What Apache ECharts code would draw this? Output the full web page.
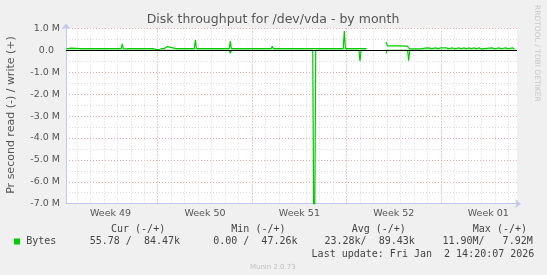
<!DOCTYPE html>
<html><head><meta charset="utf-8">
<script src="https://cdn.jsdelivr.net/npm/echarts@6/dist/echarts.min.js"></script>
<style>html,body{margin:0;padding:0;background:#f0f0f0;}#c{width:547px;height:275px;}</style>
</head><body><div id="c"></div>
<script>
// ---- text ----
const chartTitle = 'Disk throughput for /dev/vda - by month';
const yAxisTitle = 'Pr second read (-) / write (+)';
const weekLabels = ['Week 49', 'Week 50', 'Week 51', 'Week 52', 'Week 01'];
const weekLabelDays = [3.5, 10.5, 17.5, 24.5, 31.5]; // days since Dec 1
const yTicks = [-7e6, -6e6, -5e6, -4e6, -3e6, -2e6, -1e6, 0, 1e6];
const yTickLabels = ['-7.0 M', '-6.0 M', '-5.0 M', '-4.0 M', '-3.0 M', '-2.0 M', '-1.0 M', '0.0  ', '1.0 M'];
const legendHeaders = ['Cur (-/+)', 'Min (-/+)', 'Avg (-/+)', 'Max (-/+)'];
const legendName = 'Bytes';
const legendValues = ['55.78 /  84.47k', '0.00 /  47.26k', '23.28k/  89.43k', '11.90M/   7.92M'];
const lastUpdate = 'Last update: Fri Jan  2 14:20:07 2026';
const footer = 'Munin 2.0.73';
const sideText = 'RRDTOOL / TOBI OETIKER';

// ---- data (x = days since Dec 1 00:00, values in bytes/s) ----
const xStart = 0.2, xEnd = 33.63;
const writeDays = [0.24,0.40,0.45,0.55,0.62,1.28,1.36,1.45,2.27,2.35,2.43,3.38,3.46,3.54,4.29,4.37,4.45,4.69,4.77,4.85,
  5.48,5.56,5.64,6.47,6.55,6.63,6.85,7.00,7.17,7.33,7.41,7.49,7.63,7.71,7.79,8.37,8.45,8.53,9.39,9.47,9.55,9.71,9.79,9.87,
  11.48,11.56,11.64,12.30,12.38,12.46,13.34,13.42,13.50,14.43,14.51,14.59,14.82,14.90,14.98,15.41,15.49,15.57,
  16.65,16.73,16.81,17.30,17.38,17.46,18.33,18.41,18.49,20.75,20.83,20.91,22.49,22.57,23.90,23.92,24.02,24.70,24.76,24.84,
  25.50,25.58,25.66,26.00,26.07,26.14,26.45,26.52,26.60,26.81,26.90,27.12,27.19,27.27,27.60,27.68,27.76,27.98,28.05,28.12,
  28.40,28.47,28.55,28.84,28.91,28.99,29.34,29.41,29.49,29.71,29.78,29.86,30.08,30.15,30.23,30.45,30.52,30.60,30.82,30.89,30.97,
  31.80,31.88,31.96,32.30,32.37,32.45,32.80,32.87,32.95,33.29,33.36,33.44,33.56];
const writeVals = [80000,80000,130000,100000,80000,80000,120000,80000,80000,120000,80000,80000,120000,80000,80000,290000,80000,70000,40000,80000,
  80000,120000,80000,80000,120000,80000,40000,30000,50000,80000,120000,80000,90000,170000,80000,80000,120000,80000,80000,120000,80000,80000,470000,80000,
  80000,120000,80000,80000,420000,80000,80000,120000,80000,80000,120000,80000,80000,120000,80000,80000,180000,80000,
  80000,120000,80000,80000,120000,80000,80000,120000,80000,80000,880000,80000,80000,null,null,380000,200000,200000,150000,190000,
  190000,190000,70000,70000,110000,70000,70000,110000,80000,100000,70000,110000,70000,70000,110000,70000,70000,110000,70000,
  70000,110000,70000,70000,110000,70000,70000,110000,70000,70000,110000,70000,70000,110000,70000,70000,110000,70000,70000,110000,70000,
  70000,110000,70000,70000,110000,70000,70000,110000,70000,70000,110000,70000,70000];
const readDays = [0.24,12.30,12.38,12.46,15.41,15.49,15.57,18.49,18.60,18.71,21.92,21.99,22.07,22.49,22.57,23.90,23.92,24.00,25.52,25.60,25.68,33.56];
const readVals = [0,0,140000,0,0,60000,0,0,11900000,0,0,500000,0,0,null,null,140000,0,0,470000,0,0];

// ---- style ----
const green = '#00cc00';
const axisColor = '#c4c6f0';
const minorGrid = '#d8d8d8';
const majorGrid = '#eeaaaa';
const dotted = [1, 2];
const sans = '"DejaVu Sans"';
const mono = '"DejaVu Sans Mono"';

const chart = echarts.init(document.getElementById('c'), null, {renderer: 'canvas'});
const toPairs = (xs, vs, sign) => xs.map((x, i) => [x, vs[i] === null ? '-' : sign * vs[i]]);

const grids = [
  {left: 66, right: 30, top: 28.4, bottom: 71.3, show: true, backgroundColor: '#ffffff', borderWidth: 0},
  {left: 63.3, right: 30, top: 28.4, bottom: 71.3}
];
const gridTextColor = '#555';

const option = {
  backgroundColor: '#f0f0f0',
  animation: false,
  grid: grids,
  xAxis: [
    {gridIndex: 0, type: 'value', min: xStart, max: xEnd,
      axisLine: {show: true, onZero: false, symbol: ['none', 'arrow'], symbolSize: [7, 6], symbolOffset: [0, 4], lineStyle: {color: axisColor, width: 1}},
      axisTick: {show: false}, axisLabel: {show: false}, splitLine: {show: false}},
    {gridIndex: 1, type: 'value', min: 0, max: xEnd, interval: 1, position: 'bottom',
      axisLine: {show: false}, axisTick: {show: false}, axisLabel: {show: false},
      splitLine: {show: true, showMinLine: false, showMaxLine: false, lineStyle: {color: minorGrid, type: dotted, width: 1}}},
    {gridIndex: 1, type: 'value', min: 0, max: xEnd, interval: 7, position: 'bottom',
      axisLine: {show: false}, axisTick: {show: false}, axisLabel: {show: false},
      splitLine: {show: true, showMinLine: false, showMaxLine: false, lineStyle: {color: majorGrid, type: dotted, width: 1}}},
    {gridIndex: 1, type: 'value', min: 0, max: xEnd, interval: 3.5, position: 'bottom',
      axisLine: {show: false}, axisTick: {show: false}, splitLine: {show: false},
      axisLabel: {show: true, showMinLabel: false, showMaxLabel: false, margin: 5, color: gridTextColor, fontSize: 9.5, fontFamily: sans,
        formatter: v => { const i = weekLabelDays.findIndex(d => Math.abs(d - v) < 1e-6); return i >= 0 ? weekLabels[i] : ''; }}}
  ],
  yAxis: [
    {gridIndex: 0, type: 'value', min: -7e6, max: 1e6, interval: 5e5,
      axisLine: {show: true, onZero: false, symbol: ['none', 'arrow'], symbolSize: [7, 6], symbolOffset: [0, 5], lineStyle: {color: axisColor, width: 1}},
      axisTick: {show: false},
      axisLabel: {margin: 6, color: gridTextColor, fontSize: 9.5, fontFamily: sans,
        formatter: v => { const i = yTicks.findIndex(t => Math.abs(t - v) < 1); return i >= 0 ? yTickLabels[i] : ''; }},
      splitLine: {show: true, showMinLine: false, lineStyle: {color: minorGrid, type: dotted, width: 1}}},
    {gridIndex: 0, type: 'value', min: -7e6, max: 1e6, interval: 1e6, position: 'left',
      axisLine: {show: false}, axisTick: {show: false}, axisLabel: {show: false},
      splitLine: {show: true, showMinLine: false, lineStyle: {color: majorGrid, type: dotted, width: 1}}},
    {gridIndex: 1, type: 'value', min: 0, max: 1, show: false}
  ],
  series: [
    {type: 'line', name: 'read', xAxisIndex: 0, yAxisIndex: 0, data: toPairs(readDays, readVals, -1),
      showSymbol: false, connectNulls: false, lineStyle: {color: green, width: 1.2}, itemStyle: {color: green}, clip: true},
    {type: 'line', name: 'write', xAxisIndex: 0, yAxisIndex: 0, data: toPairs(writeDays, writeVals, 1),
      showSymbol: false, connectNulls: false, lineStyle: {color: green, width: 1.2}, itemStyle: {color: green}, clip: true,
      markLine: {silent: true, symbol: ['none', 'none'], label: {show: false}, animation: false,
        lineStyle: {color: '#000', type: 'solid', width: 1.2}, data: [{yAxis: 0}]}}
  ],
  graphic: [
    {type: 'text', x: 273, y: 19.8, style: {text: chartTitle, font: '12.5px ' + sans, fill: '#555', align: 'center', verticalAlign: 'middle'}},
    {type: 'text', x: 11, y: 115, rotation: Math.PI / 2, style: {text: yAxisTitle, font: '11px ' + sans, fill: '#555', align: 'center', verticalAlign: 'middle'}},
    {type: 'text', x: 537, y: 5, rotation: -Math.PI / 2, style: {text: sideText, font: '7.5px ' + sans, fill: '#c8c8c8', align: 'left', verticalAlign: 'middle'}},
    ...legendHeaders.map((t, i) => ({type: 'text', x: [111, 231.3, 351.7, 472.8][i], y: 229.2,
      style: {text: t, font: '10px ' + mono, fill: '#444', align: 'left', verticalAlign: 'middle'}})),
    {type: 'rect', shape: {x: 14, y: 238.5, width: 6, height: 6}, style: {fill: green}},
    {type: 'text', x: 26.2, y: 241.4, style: {text: legendName, font: '10px ' + mono, fill: '#444', align: 'left', verticalAlign: 'middle'}},
    ...legendValues.map((t, i) => ({type: 'text', x: [89.7, 213.2, 324.5, 442.4][i], y: 241.4,
      style: {text: t, font: '10px ' + mono, fill: '#444', align: 'left', verticalAlign: 'middle'}})),
    {type: 'text', x: 311.6, y: 254, style: {text: lastUpdate, font: '10px ' + mono, fill: '#444', align: 'left', verticalAlign: 'middle'}},
    {type: 'text', x: 272.8, y: 267.6, style: {text: footer, font: '7px ' + sans, fill: '#c0c0c0', align: 'center', verticalAlign: 'middle'}}
  ]
};
chart.setOption(option);
</script>
</body></html>
